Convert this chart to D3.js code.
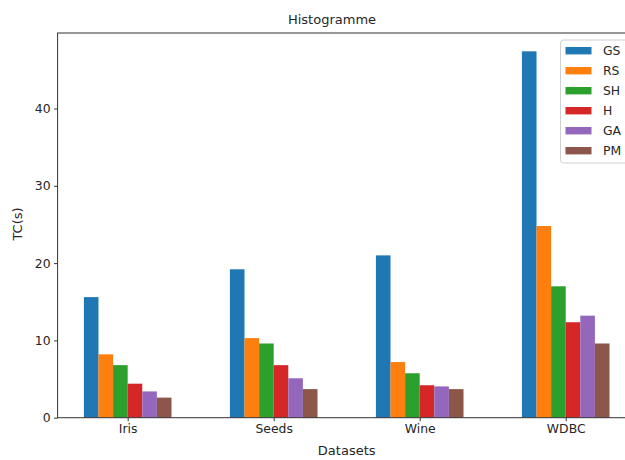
<!DOCTYPE html>
<html>
<head>
<meta charset="utf-8">
<script src="https://cdn.jsdelivr.net/npm/d3@7"></script>
<style>
  html, body { margin: 0; padding: 0; background: #fff; }
  svg { display: block; font-family: "DejaVu Sans", sans-serif; }
</style>
</head>
<body>
<svg id="chart" width="625" height="460"></svg>
<script>
// Datasets and computation times (s) per method
const datasets = ["Iris", "Seeds", "Wine", "WDBC"];
const methods = ["GS", "RS", "SH", "H", "GA", "PM"];
const GS = [15.6, 19.2, 21.0, 47.4];
const RS = [8.2, 10.3, 7.2, 24.8];
const SH = [6.8, 9.6, 5.75, 17.0];
const H  = [4.4, 6.8, 4.2, 12.35];
const GA = [3.4, 5.1, 4.05, 13.2];
const PM = [2.6, 3.7, 3.7, 9.6];
const yTicks = [0, 10, 20, 30, 40];
const colors = ["#1f77b4", "#ff7f0e", "#2ca02c", "#d62728", "#9467bd", "#8c564b"];

const series = [GS, RS, SH, H, GA, PM];
const svg = d3.select("#chart");

const plot = { left: 57.6, right: 635.8, top: 33, bottom: 417.7 };
const barW = 0.1;

// x in dataset index units, with margins like a bar plot
const x = d3.scaleLinear().domain([-0.48, 3.48]).range([plot.left, plot.right]);
const yMax = d3.max(series.flat()) * 1.05;
const y = d3.scaleLinear().domain([0, yMax]).range([plot.bottom, plot.top]);

// bars
series.forEach((vals, k) => {
  const off = (k - 2.5) * barW;
  svg.append("g").selectAll("rect").data(vals).join("rect")
    .attr("x", (d, i) => x(i + off - barW / 2))
    .attr("width", (d, i) => x(i + off + barW / 2) - x(i + off - barW / 2))
    .attr("y", d => y(d))
    .attr("height", d => y(0) - y(d))
    .attr("fill", colors[k]);
});

// axes
const xAxis = d3.axisBottom(x).tickValues(d3.range(datasets.length))
  .tickFormat(i => datasets[i]).tickSize(3.5).tickPadding(3.5);
const gx = svg.append("g").attr("transform", `translate(0,${plot.bottom})`).call(xAxis);
gx.select(".domain").remove();
gx.selectAll("text").attr("font-size", 12.4).attr("fill", "#262626")
  .attr("font-family", "DejaVu Sans");
gx.selectAll("line").attr("stroke", "#333");

const yAxis = d3.axisLeft(y).tickValues(yTicks).tickSize(3.5).tickPadding(3.5);
const gy = svg.append("g").attr("transform", `translate(${plot.left},0)`).call(yAxis);
gy.select(".domain").remove();
gy.selectAll("text").attr("font-size", 12.4).attr("fill", "#262626")
  .attr("font-family", "DejaVu Sans");
gy.selectAll("line").attr("stroke", "#333");

// frame
svg.append("rect").attr("x", plot.left).attr("y", plot.top)
  .attr("width", plot.right - plot.left).attr("height", plot.bottom - plot.top)
  .attr("fill", "none").attr("stroke", "#333").attr("stroke-width", 1);

// title and labels
svg.append("text").attr("x", 332).attr("y", 23.5).attr("text-anchor", "middle")
  .attr("font-size", 13).attr("fill", "#262626").text("Histogramme");
svg.append("text").attr("x", 346.7).attr("y", 455).attr("text-anchor", "middle")
  .attr("font-size", 13).attr("fill", "#262626").text("Datasets");
svg.append("text").attr("transform", "translate(22,224) rotate(-90)")
  .attr("text-anchor", "middle").attr("font-size", 13).attr("fill", "#262626")
  .text("TC(s)");

// legend
const lg = svg.append("g");
lg.append("rect").attr("x", 560.5).attr("y", 40).attr("width", 80).attr("height", 123)
  .attr("rx", 3).attr("fill", "#fff").attr("fill-opacity", 0.8)
  .attr("stroke", "#d0d0d0").attr("stroke-width", 1);
methods.forEach((m, k) => {
  const cy = 50.7 + k * 20;
  lg.append("rect").attr("x", 565.5).attr("y", cy - 3.7).attr("width", 26).attr("height", 7.4)
    .attr("fill", colors[k]);
  lg.append("text").attr("x", 603).attr("y", cy).attr("dy", "0.36em")
    .attr("font-size", 12.4).attr("fill", "#262626").text(m);
});
</script>
</body>
</html>
